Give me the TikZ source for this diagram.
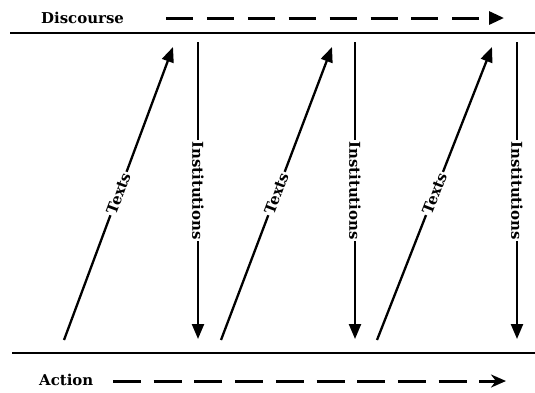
\documentclass[tikz,border=0pt]{standalone}
\usepackage{fontspec}
\setmainfont{DejaVu Serif}
\usetikzlibrary{arrows.meta}
\begin{document}
\begin{tikzpicture}[x=1bp,y=-1bp,
  txt/.style={font=\fontsize{15}{17}\selectfont\bfseries, inner sep=1pt},
  lbl/.style={font=\fontsize{15}{17}\selectfont\bfseries, fill=white, inner sep=1.5pt},
  arr/.style={line width=2.3bp, -{Triangle[length=15bp,width=12bp]}},
  dsh/.style={line width=3bp, -{Triangle[length=15bp,width=13bp]}},
  rule/.style={line width=1.6bp}]
\useasboundingbox (0,0) rectangle (535,392);
% horizontal rules
\coordinate (r1a) at (10,33); \coordinate (r1b) at (535,33);
\coordinate (r2a) at (12,353); \coordinate (r2b) at (535,353);
\draw[rule] (r1a) -- (r1b);
\draw[rule] (r2a) -- (r2b);
% titles
\node[txt, anchor=west] (disc) at (40,18) {Discourse};
\node[txt, anchor=west] (act) at (38,380) {Action};
\coordinate (d1) at (166,18); \coordinate (d2) at (504,18);
\coordinate (a1) at (113,381); \coordinate (a2) at (506,381);
\draw[dsh, dash pattern=on 27bp off 13.9bp] (d1) -- (d2);
\draw[dsh, dash pattern=on 28bp off 12.7bp, -{Stealth[length=15bp,width=13bp]}] (a1) -- (a2);
% Texts arrows
\coordinate (t1s) at (64,340);  \coordinate (t1e) at (173,47);
\coordinate (t2s) at (221,340); \coordinate (t2e) at (332,47);
\coordinate (t3s) at (377,340); \coordinate (t3e) at (492,47);
\draw[arr] (t1s) -- node[lbl, rotate=69.6] (tl1) {Texts} (t1e);
\draw[arr] (t2s) -- node[lbl, rotate=69.3] (tl2) {Texts} (t2e);
\draw[arr] (t3s) -- node[lbl, rotate=68.6] (tl3) {Texts} (t3e);
% Institutions arrows
\coordinate (i1s) at (198,42); \coordinate (i1e) at (198,339);
\coordinate (i2s) at (355,42); \coordinate (i2e) at (355,339);
\coordinate (i3s) at (517,42); \coordinate (i3e) at (517,339);
\draw[arr] (i1s) -- node[lbl, rotate=-90] (il1) {Institutions} (i1e);
\draw[arr] (i2s) -- node[lbl, rotate=-90] (il2) {Institutions} (i2e);
\draw[arr] (i3s) -- node[lbl, rotate=-90] (il3) {Institutions} (i3e);
\end{tikzpicture}
\end{document}
